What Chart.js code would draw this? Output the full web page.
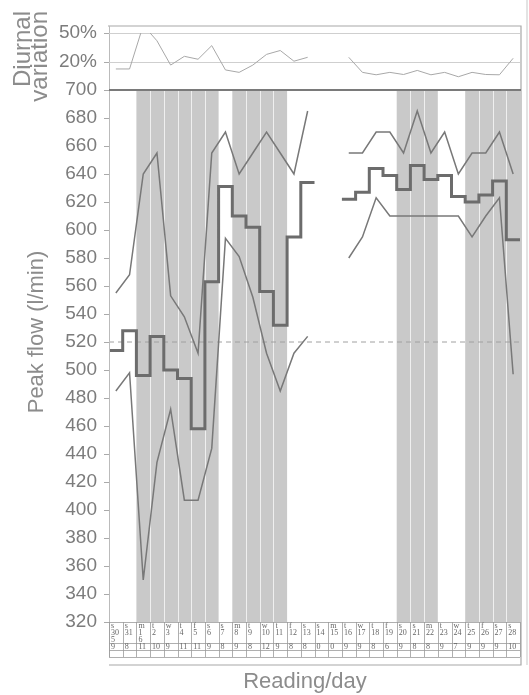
<!DOCTYPE html>
<html>
<head>
<meta charset="utf-8">
<script src="https://cdn.jsdelivr.net/npm/chart.js@4.4.1/dist/chart.umd.min.js"></script>
<style>
  html, body { margin: 0; padding: 0; background: #fff; }
  #wrap { position: relative; width: 529px; height: 695px; }
  #wrap canvas { position: absolute; left: 0; top: 0; }
</style>
</head>
<body>
<div id="wrap">
  <canvas id="flowChart" width="529" height="695"></canvas>
  <canvas id="diurnalChart" width="529" height="100"></canvas>
</div>
<script>
// one column per day, 30 May .. 28 June
const dayLetters = ["s","s","m","t","w","t","f","s","s","m","t","w","t","f","s","s","m","t","w","t","f","s","s","m","t","w","t","f","s","s"];
const dayNumbers = [30,31,1,2,3,4,5,6,7,8,9,10,11,12,13,14,15,16,17,18,19,20,21,22,23,24,25,26,27,28];
const monthMarks = ["5","","6","","","","","","","","","","","","","","","","","","","","","","","","","","",""];
const readingsPerDay = [9,8,11,10,9,11,11,9,8,9,8,12,9,8,8,0,0,9,9,8,6,9,8,8,9,7,9,9,9,10];

// peak flow (l/min)
const highest = [555,568,640,655,553,538,512,655,670,640,655,670,655,640,685,null,null,655,655,670,670,655,685,655,670,640,655,655,670,640];
const lowest  = [485,498,350,434,472,407,407,444,594,581,552,512,485,512,524,null,null,580,595,623,610,610,610,610,610,610,595,610,623,497];
const average = [514,528,496,524,500,494,458,563,631,610,602,556,532,595,634,null,null,622,627,644,639,629,646,636,639,624,620,625,635,593];
const refFlow = 520;

// diurnal variation (%)
const diurnal = [13,13,58,42,17,26,23,37,12,9.5,17,28,32,21,25,null,null,25,9.5,7,9.5,7.3,11.5,7,9.5,5,9.5,7.3,7,24];

// shaded day columns (first, last index)
const shadedCols = [[2,7],[9,12],[21,23],[26,29]];

const FONT = "'Liberation Sans', Arial, sans-serif";
const toPoints = arr => arr.map((v, i) => ({ x: i, y: v }));

function stepPoints(vals) {
    const pts = [];
    for (let i = 0; i < vals.length; i++) {
        if (vals[i] === null) { pts.push({ x: i - 0.5, y: null }); continue; }
        pts.push({ x: i - 0.5, y: vals[i] });
        if (i === vals.length - 1 || vals[i + 1] === null) pts.push({ x: i + 0.5, y: vals[i] });
    }
    return pts;
}

const xScale = {
    type: "linear", min: -0.5, max: dayNumbers.length - 0.5, display: false
};

const flowDecor = {
    id: "flowDecor",
    beforeDatasetsDraw(chart) {
        const { ctx, chartArea: a, scales: { x, y } } = chart;
        ctx.save();
        shadedCols.forEach(([s, e]) => {
            const x0 = x.getPixelForValue(s - 0.5), x1 = x.getPixelForValue(e + 0.5);
            ctx.fillStyle = "#c9c9c9";
            ctx.fillRect(x0, a.top, x1 - x0, a.bottom - a.top);
            ctx.strokeStyle = "rgba(255,255,255,0.7)";
            ctx.lineWidth = 1;
            for (let k = s + 1; k <= e; k++) {
                const px = Math.round(x.getPixelForValue(k - 0.5)) + 0.5;
                ctx.beginPath(); ctx.moveTo(px, a.top); ctx.lineTo(px, a.bottom); ctx.stroke();
            }
        });
        // reference line
        const ry = y.getPixelForValue(refFlow);
        ctx.strokeStyle = "#a0a0a0";
        ctx.setLineDash([5, 4]);
        ctx.beginPath(); ctx.moveTo(a.left, ry); ctx.lineTo(a.right, ry); ctx.stroke();
        ctx.restore();
    },
    afterDraw(chart) {
        const { ctx, chartArea: a, scales: { x } } = chart;
        ctx.save();
        // frame
        ctx.strokeStyle = "#a8a8a8";
        ctx.lineWidth = 1.2;
        ctx.beginPath();
        ctx.moveTo(a.left - 1, 26); ctx.lineTo(a.right + 1, 26); ctx.lineTo(a.right + 1, 665); ctx.lineTo(a.left, 665);
        ctx.stroke();
        ctx.strokeStyle = "#d0d0d0";
        ctx.beginPath(); ctx.moveTo(527, 0); ctx.lineTo(527, 665); ctx.stroke();
        ctx.strokeStyle = "#bbbbbb";
        ctx.lineWidth = 1;
        ctx.beginPath(); ctx.moveTo(a.left + 0.5, 26); ctx.lineTo(a.left + 0.5, 657); ctx.stroke();
        // 700 line
        ctx.strokeStyle = "#7a7a7a";
        ctx.lineWidth = 2;
        ctx.beginPath(); ctx.moveTo(a.left, a.top); ctx.lineTo(a.right + 1, a.top); ctx.stroke();

        // table under the axis
        const rows = [a.bottom, 643, 650, 657];
        ctx.strokeStyle = "#9a9a9a";
        ctx.lineWidth = 0.8;
        rows.forEach(ry => {
            ctx.beginPath(); ctx.moveTo(a.left, ry + 0.5); ctx.lineTo(a.right, ry + 0.5); ctx.stroke();
        });
        for (let k = 0; k <= dayNumbers.length; k++) {
            const px = Math.round(x.getPixelForValue(k - 0.5)) + 0.5;
            ctx.beginPath(); ctx.moveTo(px, a.bottom); ctx.lineTo(px, 657); ctx.stroke();
        }
        ctx.fillStyle = "#666";
        ctx.font = "8px 'Liberation Serif', serif";
        ctx.textAlign = "left";
        dayNumbers.forEach((d, i) => {
            const cx = x.getPixelForValue(i - 0.5) + 2;
            ctx.fillText(dayLetters[i], cx, 628);
            ctx.fillText(String(d), cx, 635);
            if (monthMarks[i]) ctx.fillText(monthMarks[i], cx, 641.5);
            ctx.fillText(String(readingsPerDay[i]), cx, 649);
        });

        // titles
        ctx.fillStyle = "#8c8c8c";
        ctx.font = "22px " + FONT;
        ctx.textAlign = "center";
        ctx.fillText("Reading/day", 305, 688);
        ctx.save();
        ctx.translate(43, 332); ctx.rotate(-Math.PI / 2);
        ctx.fillText("Peak flow (l/min)", 0, 0);
        ctx.restore();
        ctx.font = "24px " + FONT;
        ctx.textAlign = "right";
        ctx.save();
        ctx.translate(30, 11); ctx.rotate(-Math.PI / 2);
        ctx.fillText("Diurnal", 0, 0);
        ctx.restore();
        ctx.save();
        ctx.translate(47, 11); ctx.rotate(-Math.PI / 2);
        ctx.fillText("variation", 0, 0);
        ctx.restore();
        ctx.restore();
    }
};

const flowChart = new Chart(document.getElementById("flowChart"), {
    type: "line",
    data: {
        datasets: [
            { data: toPoints(highest), borderColor: "#787878", borderWidth: 1.5 },
            { data: toPoints(lowest), borderColor: "#787878", borderWidth: 1.5 },
            { data: stepPoints(average), borderColor: "#6c6c6c", borderWidth: 3, stepped: true }
        ]
    },
    options: {
        responsive: false,
        animation: false,
        layout: { padding: { top: 90, bottom: 73, left: 0, right: 9 } },
        elements: { point: { radius: 0 }, line: { tension: 0 } },
        spanGaps: false,
        plugins: { legend: { display: false }, tooltip: { enabled: false } },
        scales: {
            x: xScale,
            y: {
                min: 320, max: 700,
                afterFit(scale) { scale.width = 109; },
                ticks: { stepSize: 20, color: "#7c7c7c", padding: 7, font: { family: FONT, size: 19 } },
                grid: { drawOnChartArea: false, drawTicks: true, tickLength: 5, tickColor: "#aaa" },
                border: { display: false }
            }
        }
    },
    plugins: [flowDecor]
});

const diurnalChart = new Chart(document.getElementById("diurnalChart"), {
    type: "line",
    data: {
        datasets: [
            { data: toPoints(diurnal), borderColor: "#a8a8a8", borderWidth: 1 }
        ]
    },
    options: {
        responsive: false,
        animation: false,
        layout: { padding: { top: 33, bottom: 11, left: 0, right: 9 } },
        elements: { point: { radius: 0 }, line: { tension: 0 } },
        spanGaps: false,
        plugins: { legend: { display: false }, tooltip: { enabled: false } },
        scales: {
            x: xScale,
            y: {
                min: 0, max: 50,
                afterFit(scale) { scale.width = 109; },
                afterBuildTicks(scale) { scale.ticks = [{ value: 20 }, { value: 50 }]; },
                ticks: { color: "#7c7c7c", padding: 7, font: { family: FONT, size: 19 }, callback: v => v + "%" },
                grid: { color: "#cfcfcf", tickLength: 5, tickColor: "#aaa" },
                border: { display: false }
            }
        }
    }
});
</script>
</body>
</html>
